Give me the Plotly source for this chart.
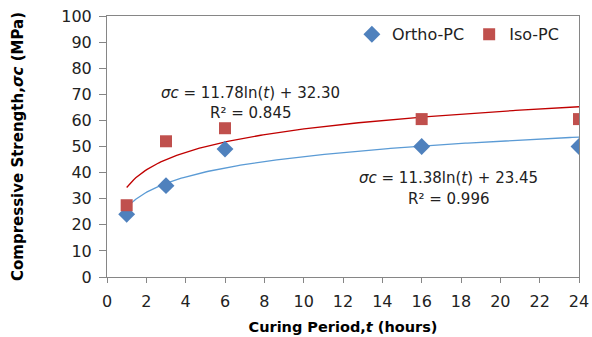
import numpy as np
import plotly.graph_objects as go

# Data
t_hours = [1, 3, 6, 16, 24]
ortho_pc = [24, 35, 49, 50, 50]
iso_pc = [27.5, 52, 57, 60.5, 60.5]
x_ticks = list(range(0, 25, 2))
y_ticks = list(range(0, 101, 10))

# logarithmic trendlines fitted to data
t_fit = np.linspace(1, 24, 200)
ko, bo = np.polyfit(np.log(t_hours), ortho_pc, 1)
ki, bi = np.polyfit(np.log(t_hours), iso_pc, 1)

FONT = "DejaVu Sans"
fig = go.Figure()
fig.add_trace(go.Scatter(x=t_fit, y=ki*np.log(t_fit)+bi, mode="lines",
                         line=dict(color="#C00000", width=1.3), showlegend=False, hoverinfo="skip"))
fig.add_trace(go.Scatter(x=t_fit, y=ko*np.log(t_fit)+bo, mode="lines",
                         line=dict(color="#5B9BD5", width=1.3), showlegend=False, hoverinfo="skip"))
fig.add_trace(go.Scatter(x=t_hours, y=ortho_pc, mode="markers", name="Ortho-PC",
                         marker=dict(symbol="diamond", size=13, color="#4F81BD")))
fig.add_trace(go.Scatter(x=t_hours, y=iso_pc, mode="markers", name="Iso-PC",
                         marker=dict(symbol="square", size=12, color="#C0504D")))

axis_common = dict(showline=True, linecolor="#868686", linewidth=1, mirror=True,
                   ticks="outside", tickcolor="#868686", showgrid=False,
                   zeroline=False, automargin=False,
                   tickfont=dict(family=FONT, size=16, color="#222222"))
fig.update_xaxes(range=[0, 24], tickvals=x_ticks, ticklen=5, ticklabelstandoff=5, **axis_common,
                 title=dict(text="<b>Curing Period,<i>t</i> (hours)</b>", standoff=11,
                            font=dict(family=FONT, size=14.5, color="#000000")))
fig.update_yaxes(range=[0, 100], tickvals=y_ticks, ticklen=7, ticklabelstandoff=4, **axis_common,
                 title=dict(text="<b>Compressive Strength,<i>σc</i> (MPa)</b>", standoff=34,
                            font=dict(family=FONT, size=15, color="#000000")))

ann_font = dict(family=FONT, size=15, color="#222222")
def add_text(px, py, text):
    fig.add_annotation(x=(px-107)/472, y=(277-py)/261, xref="paper", yref="paper",
                       text=text, showarrow=False, font=ann_font, xanchor="center", yanchor="middle")
add_text(250, 93, "<i>σc</i> = 11.78ln(<i>t</i>) + 32.30")
add_text(250, 113, "R² = 0.845")
add_text(448, 178, "<i>σc</i> = 11.38ln(<i>t</i>) + 23.45")
add_text(448, 199, "R² = 0.996")

fig.update_layout(width=592, height=337, margin=dict(l=107, r=13, t=16, b=60),
                  paper_bgcolor="white", plot_bgcolor="white",
                  legend=dict(orientation="h", x=0.968, y=0.995, xanchor="right", yanchor="top",
                              font=dict(family=FONT, size=16, color="#222222"),
                              bgcolor="rgba(0,0,0,0)", itemwidth=30))
fig.write_html("out.html")
